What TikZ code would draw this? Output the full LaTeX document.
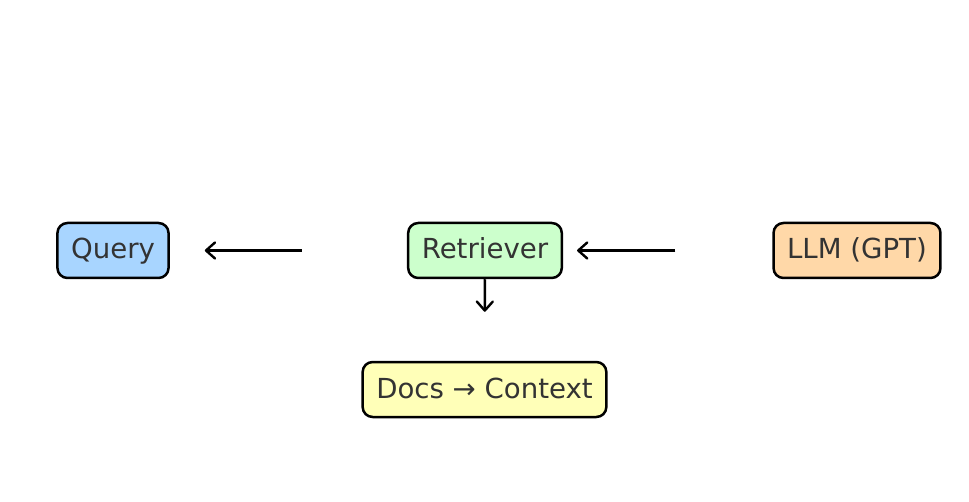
\documentclass[tikz,border=0pt]{standalone}
\usepackage{fontspec}
\setmainfont{DejaVu Sans}
\usepackage{tikz}
\usetikzlibrary{arrows.meta, positioning}
\usepackage{xcolor}

\definecolor{queryblue}{HTML}{A8D5FF}
\definecolor{retrgreen}{HTML}{CCFFCC}
\definecolor{docsyellow}{HTML}{FFFFB8}
\definecolor{llmorange}{HTML}{FFD8A8}
\definecolor{textgray}{HTML}{333333}

\tikzset{
    stage/.style={draw=black, line width=1.25pt, rounded corners=5pt,
        text=textgray, inner xsep=6.8pt, minimum height=27.5pt,
        text height=11pt, text depth=2.5pt,
        font=\fontsize{13.8}{16}\selectfont},
    flow/.style={->, line width=1.2pt}
}

\begin{document}
\begin{tikzpicture}[
    x=0.5pt, y=-0.5pt,
    >={Straight Barb[length=4.5pt, width=8pt, round]}
]
\useasboundingbox (0,0) rectangle (969,502);

% Nodes placed manually
\node[stage, fill=queryblue] (Q) at (113,250.5) {Query};
\node[stage, fill=retrgreen] (R) at (485,250.5) {Retriever};
\node[stage, fill=llmorange] (L) at (857,250.5) {LLM (GPT)};
\node[stage, fill=docsyellow] (D) at (484.5,389.5) {Docs → Context};

% Arrows
\draw[flow, shorten <=52.5pt, shorten >=17.5pt] (R) -- (Q);
\draw[flow, shorten <=48.5pt, shorten >=7pt] (L) -- (R);
\draw[flow, shorten >=24.5pt] (R) -- (D);
\end{tikzpicture}
\end{document}
